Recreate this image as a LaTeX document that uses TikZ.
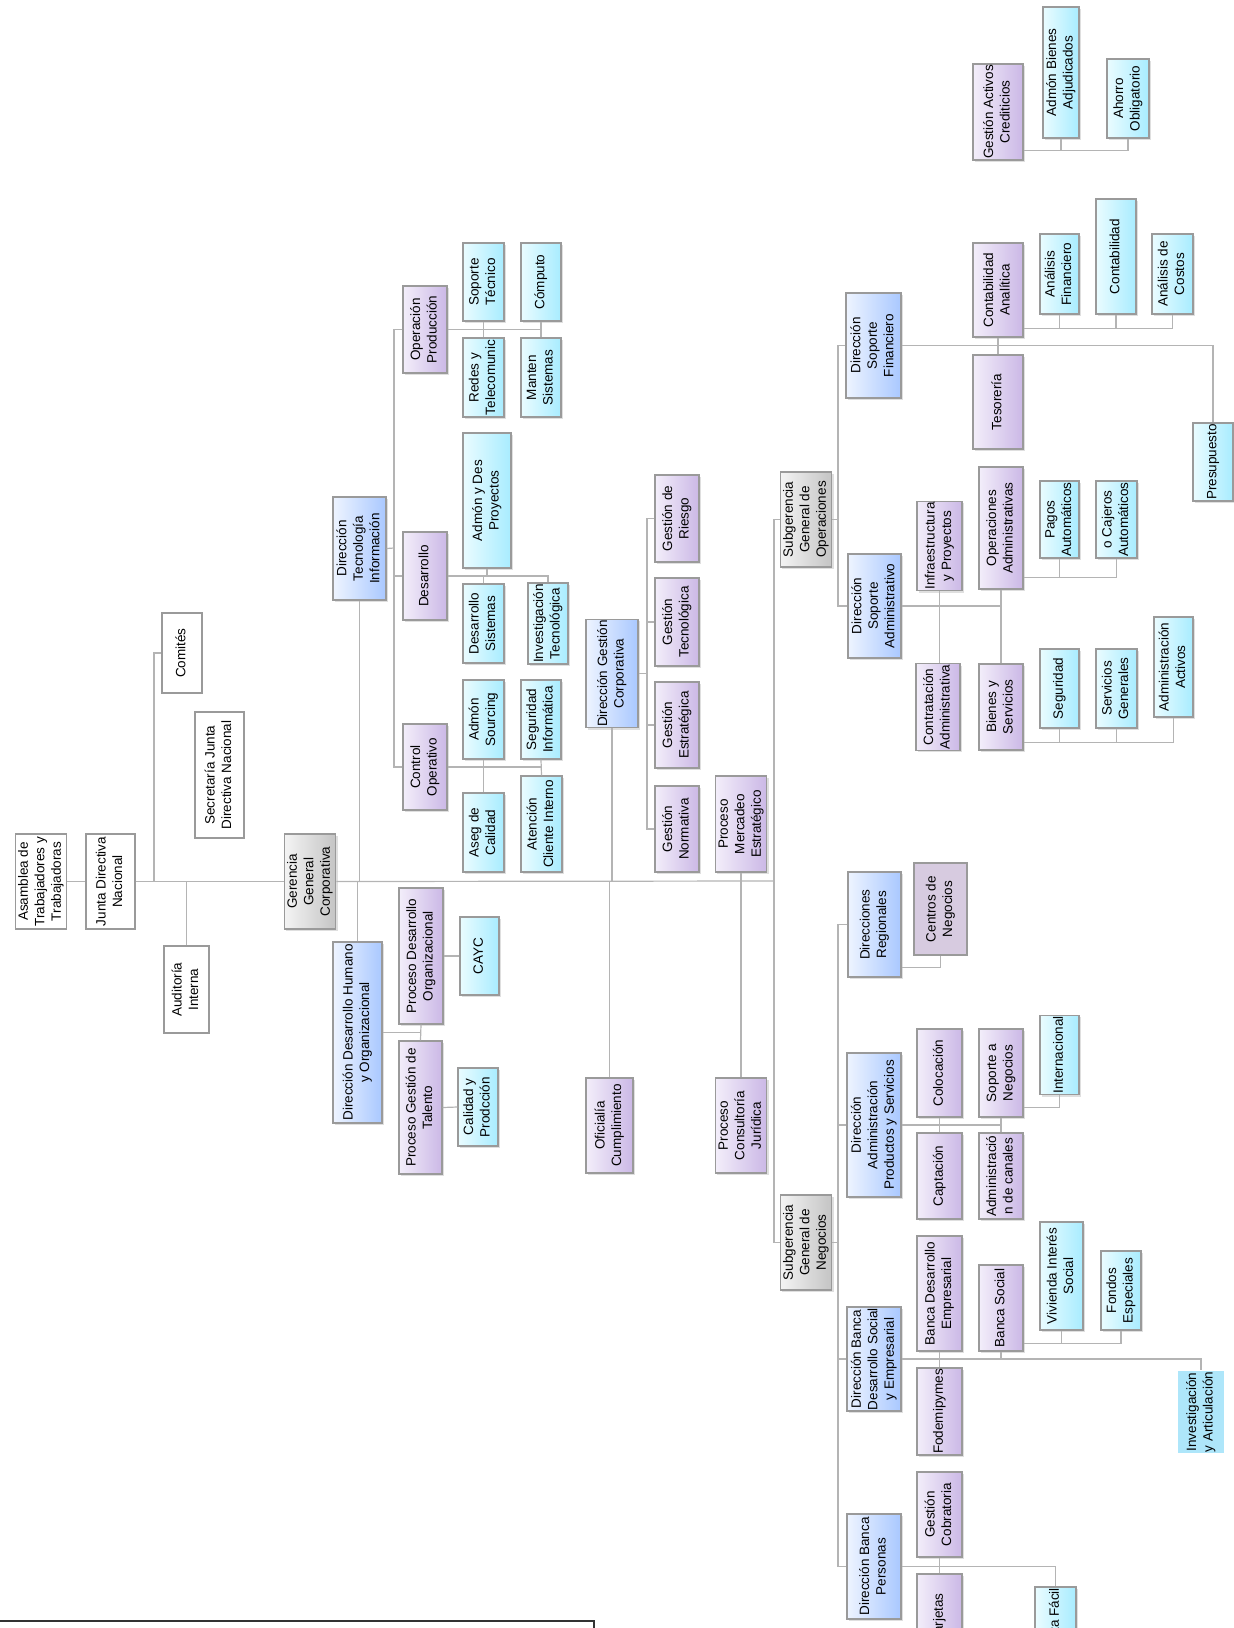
\documentclass[tikz,border=0pt]{standalone}
\usepackage{fontspec}
\setmainfont{Liberation Sans}
\usepackage{graphicx}
\usetikzlibrary{shadows}

\definecolor{bordc}{HTML}{9A9A9A}
\definecolor{linec}{HTML}{B4B4B4}
\definecolor{bluL}{HTML}{EEF4FF}
\definecolor{bluR}{HTML}{A9C8FF}
\definecolor{purL}{HTML}{F3EEFA}
\definecolor{purR}{HTML}{CBB8E6}
\definecolor{cyaL}{HTML}{EAFCFF}
\definecolor{cyaR}{HTML}{A8ECFF}
\definecolor{gryL}{HTML}{F4F4F4}
\definecolor{gryR}{HTML}{C4C4C4}
\definecolor{mauve}{HTML}{D7CBE0}
\definecolor{skyc}{HTML}{AEE6FA}

% rotated, centred lines of a box
\newcommand{\rt}[1]{\rotatebox{90}{\begin{tabular}{@{}c@{}}#1\end{tabular}}}

\begin{document}
\begin{tikzpicture}[x=1pt, y=-1pt,
    box/.style={draw=bordc, line width=1.3pt, inner sep=1pt,
        font=\fontsize{13.5}{16.5}\selectfont},
    sz/.style 2 args={minimum width=#1, minimum height=#2},
    shad/.style={drop shadow={opacity=0.25, shadow xshift=2pt, shadow yshift=-2pt}},
    wht/.style={box, fill=white},
    blu/.style={box, shad, left color=bluL, right color=bluR},
    pur/.style={box, shad, left color=purL, right color=purR},
    cya/.style={box, shad, left color=cyaL, right color=cyaR},
    gry/.style={box, shad, left color=gryL, right color=gryR},
    conn/.style={draw=linec, line width=1.2pt}]

    \useasboundingbox (0,0) rectangle (1234,1628);
    \clip (0,0) rectangle (1234,1628);

    % Board level
    \node[wht, sz={48}{95}] (asam) at (41,881.5) {\rt{Asamblea de\\Trabajadores y\\Trabajadoras}};
    \node[wht, sz={49}{95}] (jdn) at (110.5,881.5) {\rt{Junta Directiva\\Nacional}};
    \node[wht, sz={40}{80}] (comites) at (182,653) {\rt{Comités}};
    \node[wht, sz={49}{126}] (sec) at (219.5,775) {\rt{Secretaría Junta\\Directiva Nacional}};
    \node[wht, sz={45}{87}] (aud) at (186.5,989.5) {\rt{Auditoría\\Interna}};
    \node[gry, sz={50}{95}] (ggc) at (310,881.5) {\rt{Gerencia\\General\\Corporativa}};

    % Tecnologia
    \node[blu, sz={53}{103}] (dti) at (359.5,548.5) {\rt{Dirección\\Tecnología\\Información}};
    \node[pur, sz={44}{87}] (opr) at (425,329.5) {\rt{Operación\\Producción}};
    \node[pur, sz={44}{88}] (des) at (425,576) {\rt{Desarrollo}};
    \node[pur, sz={44}{86}] (cop) at (425,767) {\rt{Control\\Operativo}};
    \node[cya, sz={41}{78}] (sopt) at (483.5,282) {\rt{Soporte\\Técnico}};
    \node[cya, sz={40}{78}] (comp) at (541,282) {\rt{Cómputo}};
    \node[cya, sz={41}{79}] (redes) at (483.5,377.5) {\rt{Redes y\\Telecomunic}};
    \node[cya, sz={40}{79}] (mant) at (541,377.5) {\rt{Manten\\Sistemas}};
    \node[cya, sz={48}{135}] (adp) at (487,500.5) {\rt{Admón y Des\\Proyectos}};
    \node[cya, sz={41}{79}] (dsis) at (483.5,623.5) {\rt{Desarrollo\\Sistemas}};
    \node[cya, sz={40}{79}] (invt) at (548,623.5) {\rt{Investigación\\Tecnológica}};
    \node[cya, sz={41}{79}] (asrc) at (483.5,719.5) {\rt{Admón\\Sourcing}};
    \node[cya, sz={40}{79}] (seg) at (541,719.5) {\rt{Seguridad\\Informática}};
    \node[cya, sz={41}{79}] (acal) at (483.5,832.5) {\rt{Aseg de\\Calidad}};
    \node[cya, sz={41}{96}] (aci) at (541.5,824) {\rt{Atención\\Cliente Interno}};

    % Desarrollo humano
    \node[blu, sz={49}{181}] (ddh) at (357.5,1032.5) {\rt{Dirección Desarrollo Humano\\y Organizacional}};
    \node[pur, sz={44}{136}] (pdo) at (421,956) {\rt{Proceso Desarrollo\\Organizacional}};
    \node[pur, sz={43}{133}] (pgt) at (420.5,1107.5) {\rt{Proceso Gestión de\\Talento}};
    \node[cya, sz={39}{78}] (cayc) at (479.5,956) {\rt{CAYC}};
    \node[cya, sz={40}{78}] (cyp) at (478,1107) {\rt{Calidad y\\Prodcción}};

    % Gestion corporativa
    \node[blu, sz={52}{103}] (dgc) at (612,673.5) {\rt{Dirección Gestión\\Corporativa}};
    \node[pur, sz={44}{87}] (gri) at (677,518.5) {\rt{Gestión de\\Riesgo}};
    \node[pur, sz={44}{88}] (gte) at (677,622) {\rt{Gestión\\Tecnológica}};
    \node[pur, sz={44}{86}] (ges) at (677,725) {\rt{Gestión\\Estratégica}};
    \node[pur, sz={44}{86}] (gno) at (677,829) {\rt{Gestión\\Normativa}};
    \node[pur, sz={50}{96}] (pme) at (741,824) {\rt{Proceso\\Mercadeo\\Estratégico}};
    \node[pur, sz={47}{95}] (ofc) at (609.5,1125.5) {\rt{Oficialía\\Cumplimiento}};
    \node[pur, sz={50}{95}] (pcj) at (741,1125.5) {\rt{Proceso\\Consultoría\\Jurídica}};

    % Subgerencias
    \node[gry, sz={48}{95}] (sgo) at (806,519.5) {\rt{Subgerencia\\General de\\Operaciones}};
    \node[gry, sz={48}{95}] (sgn) at (806,1242.5) {\rt{Subgerencia\\General de\\Negocios}};

    % Soporte financiero
    \node[blu, sz={55}{105}] (dsf) at (873.5,345.5) {\rt{Dirección\\Soporte\\Financiero}};
    \node[pur, sz={50}{94}] (cana) at (998,290) {\rt{Contabilidad\\Analítica}};
    \node[pur, sz={50}{94}] (teso) at (998,402) {\rt{Tesorería}};
    \node[cya, sz={39}{80}] (afin) at (1059.5,274) {\rt{Análisis\\Financiero}};
    \node[cya, sz={40}{115}] (cont) at (1116,256.5) {\rt{Contabilidad}};
    \node[cya, sz={41}{80}] (acos) at (1172.5,274) {\rt{Análisis de\\Costos}};
    \node[cya, sz={40}{78}] (pres) at (1213,462) {\rt{Presupuesto}};
    \node[pur, sz={50}{96}] (gac) at (998,112) {\rt{Gestión Activos\\Crediticios}};
    \node[cya, sz={36}{131}] (abad) at (1061,72.5) {\rt{Admón Bienes\\Adjudicados}};
    \node[cya, sz={42}{79}] (aho) at (1128,98.5) {\rt{Ahorro\\Obligatorio}};

    % Soporte administrativo
    \node[blu, sz={53}{104}] (dsa) at (874.5,606) {\rt{Dirección\\Soporte\\Administrativo}};
    \node[pur, sz={45}{86}] (infra) at (939.5,546) {\rt{Infraestructura\\y Proyectos}};
    \node[pur, sz={44}{122}] (opad) at (1001,528) {\rt{Operaciones\\Administrativas}};
    \node[cya, sz={39}{77}] (pag) at (1059.5,519.5) {\rt{Pagos\\Automáticos}};
    \node[cya, sz={41}{77}] (caj) at (1116.5,519.5) {\rt{o Cajeros\\Automáticos}};
    \node[pur, sz={44}{86}] (ctad) at (938,707) {\rt{Contratación\\Administrativa}};
    \node[pur, sz={44}{86}] (bys) at (1001,707) {\rt{Bienes y\\Servicios}};
    \node[cya, sz={39}{79}] (segu) at (1059.5,688.5) {\rt{Seguridad}};
    \node[cya, sz={41}{79}] (sgen) at (1116.5,688.5) {\rt{Servicios\\Generales}};
    \node[cya, sz={39}{100}] (aact) at (1173.5,667) {\rt{Administración\\Activos}};

    % Negocios
    \node[blu, sz={53}{105}] (dreg) at (874.5,924.5) {\rt{Direcciones\\Regionales}};
    \node[box, fill=mauve, sz={53}{92}] (cneg) at (940.5,909) {\rt{Centros de\\Negocios}};
    \node[blu, sz={54}{144}] (daps) at (874,1125) {\rt{Dirección\\Administración\\Productos y Servicios}};
    \node[pur, sz={45}{88}] (colo) at (939.5,1073) {\rt{Colocación}};
    \node[pur, sz={45}{86}] (capt) at (939.5,1176) {\rt{Captación}};
    \node[pur, sz={44}{88}] (sneg) at (1001,1073) {\rt{Soporte a\\Negocios}};
    \node[pur, sz={44}{86}] (acan) at (1001,1176) {\rt{Administració\\n de canales}};
    \node[cya, sz={39}{78}] (intl) at (1059.5,1055) {\rt{Internacional}};
    \node[blu, sz={54}{104}] (dbds) at (874,1359) {\rt{Dirección Banca\\Desarrollo Social\\y Empresarial}};
    \node[pur, sz={45}{115}] (bde) at (939.5,1293.5) {\rt{Banca Desarrollo\\Empresarial}};
    \node[pur, sz={45}{87}] (fode) at (939.5,1411.5) {\rt{Fodemipymes}};
    \node[pur, sz={44}{86}] (bso) at (1001,1308) {\rt{Banca Social}};
    \node[cya, sz={43}{108}] (vis) at (1061.5,1276) {\rt{Vivienda Interés\\Social}};
    \node[cya, sz={40}{79}] (fesp) at (1121,1290.5) {\rt{Fondos\\Especiales}};
    \node[box, draw=none, fill=skyc, sz={46}{80}] (iya) at (1201,1412) {\rt{Investigación\\y Articulación}};
    \node[blu, sz={54}{105}] (dbp) at (874,1566.5) {\rt{Dirección Banca\\Personas}};
    \node[pur, sz={45}{85}] (gcob) at (939.5,1514.5) {\rt{Gestión\\Cobratoria}};
    \node[pur, sz={45}{86}] (tarj) at (939.5,1617) {\rt{Tarjetas}};
    \node[cya, sz={41}{78}] (fac) at (1055.5,1626) {\rt{Cuenta Fácil}};

    % Bus points
    \coordinate (mainE) at (774,881);
    \coordinate (jc) at (154,881);
    \coordinate (tiBus) at (394,548);
    \coordinate (gcBus) at (647,673.5);
    \coordinate (opBus) at (838,519.5);
    \coordinate (ngBus) at (838,1242.5);
    \coordinate (caL) at ([yshift=9pt]cana.south east);
    \coordinate (gaL) at ([yshift=10pt]gac.south east);
    \coordinate (oaL) at ([yshift=12pt]opad.south east);
    \coordinate (bsL) at ([yshift=8pt]bys.south east);
    \coordinate (drL) at ([yshift=10pt]dreg.south east);
    \coordinate (snL) at ([yshift=10pt]sneg.south east);
    \coordinate (bsoL) at ([yshift=8pt]bso.south east);

    % Main line
    \draw[conn] (asam.east) -- (jdn.west);
    \draw[conn] (jdn.east) -- (ggc.west);
    \draw[conn] (ggc.east) -- (mainE);
    \draw[conn] (jc) |- (comites.west);
    \draw[conn] (aud.north) -- (aud.north |- mainE);
    \draw[conn] (dti.south) -- (dti.south |- mainE);
    \draw[conn] (ddh.north) -- (ddh.north |- mainE);
    \draw[conn] (dgc.south) -- (dgc.south |- mainE);
    \draw[conn] (ofc.north) -- (ofc.north |- mainE);
    \draw[conn] (pme.south) -- (pcj.north);
    \draw[conn] (sgo.west) -| (mainE);
    \draw[conn] (sgn.west) -| (mainE);

    % Tecnologia links
    \draw[conn] (dti.east) -- (tiBus);
    \foreach \n in {opr,des,cop} \draw[conn] (\n.west) -| (tiBus);
    \draw[conn] (opr.east) -- (opr.east -| comp.south);
    \draw[conn] (sopt.south) -- (redes.north);
    \draw[conn] (comp.south) -- (mant.north);
    \draw[conn] (des.east) -| (invt.north);
    \draw[conn] (adp.south) -- (adp.south |- des.east);
    \draw[conn] (dsis.north) -- (dsis.north |- des.east);
    \draw[conn] (cop.east) -- (cop.east -| seg.south);
    \draw[conn] (asrc.south) -- (acal.north);
    \draw[conn] (seg.south) -- (aci.north);

    % Desarrollo humano links
    \draw[conn] (ddh.east) -- (ddh.east -| pdo.south);
    \draw[conn] (pdo.south) -- (pgt.north);
    \draw[conn] (pdo.east) -- (cayc.west);
    \draw[conn] (pgt.east) -- (cyp.west);

    % Gestion corporativa links
    \draw[conn] (dgc.east) -- (gcBus);
    \foreach \n in {gri,gte,ges,gno} \draw[conn] (\n.west) -| (gcBus);

    % Operaciones links
    \draw[conn] (sgo.east) -- (opBus);
    \draw[conn] (dsf.west) -| (opBus);
    \draw[conn] (dsa.west) -| (opBus);
    \draw[conn] (dsf.east) -| (pres.north);
    \draw[conn] (cana.south) -- (teso.north);
    \draw[conn] (caL) -| (acos.south);
    \draw[conn] (afin.south) -- (afin.south |- caL);
    \draw[conn] (cont.south) -- (cont.south |- caL);
    \draw[conn] (gaL) -| (aho.south);
    \draw[conn] (abad.south) -- (abad.south |- gaL);
    \draw[conn] (dsa.east) -- (dsa.east -| opad.south);
    \draw[conn] (infra.south) -- (infra.south |- ctad.north);
    \draw[conn] (opad.south) -- (bys.north);
    \draw[conn] (oaL) -| (caj.south);
    \draw[conn] (pag.south) -- (pag.south |- oaL);
    \draw[conn] (bsL) -| (aact.south);
    \draw[conn] (segu.south) -- (segu.south |- bsL);
    \draw[conn] (sgen.south) -- (sgen.south |- bsL);

    % Negocios links
    \draw[conn] (sgn.east) -- (ngBus);
    \foreach \n in {dreg,daps,dbds,dbp} \draw[conn] (\n.west) -| (ngBus);
    \draw[conn] (drL) -| (cneg.south);
    \draw[conn] (daps.east) -- (daps.east -| sneg.south);
    \draw[conn] (colo.south) -- (capt.north);
    \draw[conn] (sneg.south) -- (acan.north);
    \draw[conn] (snL) -| (intl.south);
    \draw[conn] (dbds.east) -| (iya.north);
    \draw[conn] (bde.south) -- (fode.north);
    \draw[conn] (bso.south) -- (bso.south |- dbds.east);
    \draw[conn] (bsoL) -| (fesp.south);
    \draw[conn] (vis.south) -- (vis.south |- bsoL);
    \draw[conn] (dbp.east) -| (fac.north);
    \draw[conn] (gcob.south) -- (tarj.north);

    % Frame at the foot
    \draw[black!80, line width=1.5pt] (-2,1621) rectangle (594,1700);
\end{tikzpicture}
\end{document}
